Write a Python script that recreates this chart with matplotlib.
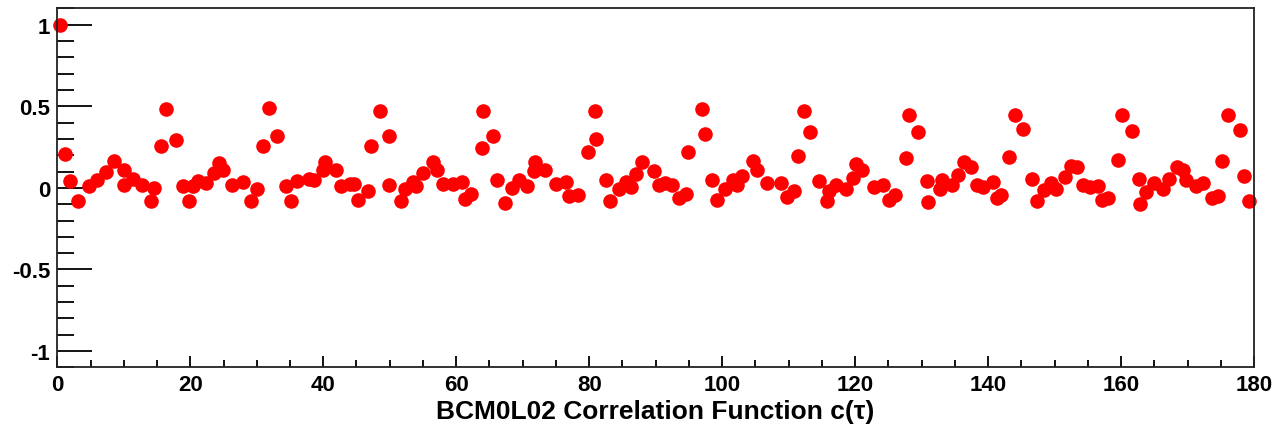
import matplotlib
matplotlib.use("Agg")
import matplotlib.pyplot as plt
from matplotlib.ticker import MultipleLocator

plt.rcParams['font.family'] = ['Liberation Sans', 'DejaVu Sans']
plt.rcParams['font.weight'] = 'bold'

# lag values and correlation
tau = [0.45, 1.2, 1.96, 3.1, 4.8, 5.9, 7.3, 8.5, 10.0, 10.0, 11.4, 12.7, 14.1, 14.5,
       15.6, 16.3, 17.85, 18.9, 19.85, 20.45, 21.15, 22.4, 23.5, 24.3, 24.96, 26.3,
       27.97, 29.2, 30.1, 31.0, 31.9, 33.0, 34.4, 35.2, 36.1, 37.9, 38.6, 39.9, 40.2,
       41.9, 42.7, 44.0, 44.7, 45.3, 46.8, 47.2, 48.6, 49.9, 49.9, 51.7, 52.3, 53.5,
       54.0, 55.0, 56.5, 57.05, 57.95, 59.55, 60.9, 61.3, 62.2, 63.9, 63.97, 65.5,
       66.2, 67.4, 68.4, 69.5, 70.6, 71.7, 71.9, 73.3, 75.0, 76.5, 77.0, 78.25, 79.85,
       80.86, 81.1, 82.5, 83.1, 84.5, 85.5, 86.3, 87.05, 88.0, 89.8, 90.5, 91.4, 92.5,
       93.5, 94.5, 94.9, 96.9, 97.4, 98.5, 99.2, 100.4, 101.7, 102.3, 103.0, 104.7,
       105.2, 106.8, 108.8, 109.8, 110.8, 111.4, 112.3, 113.2, 114.5, 115.7, 116.1,
       117.1, 118.7, 119.7, 120.1, 121.0, 122.9, 124.2, 125.1, 126.0, 127.7, 128.1,
       129.5, 130.8, 131.0, 132.7, 133.1, 134.6, 135.5, 136.3, 137.4, 138.3, 139.2,
       140.7, 141.3, 141.9, 143.1, 144.1, 145.3, 146.6, 147.3, 148.4, 149.5, 150.2,
       151.5, 152.4, 153.4, 154.2, 155.3, 156.6, 157.1, 158.0, 159.6, 160.2, 161.6,
       162.7, 162.9, 163.8, 164.9, 166.3, 167.2, 168.4, 169.3, 169.8, 171.3, 172.3,
       173.6, 174.6, 175.2, 176.1, 177.9, 178.5, 179.2]
corr = [1.0, 0.21, 0.04, -0.08, 0.014, 0.05, 0.096, 0.167, 0.112, 0.02, 0.055, 0.02,
        -0.08, 0.0, 0.255, 0.484, 0.292, 0.01, -0.08, 0.01, 0.04, 0.03, 0.094, 0.155,
        0.112, 0.02, 0.034, -0.078, -0.006, 0.255, 0.49, 0.32, 0.01, -0.082, 0.04,
        0.055, 0.047, 0.112, 0.157, 0.112, 0.01, 0.024, 0.024, -0.072, -0.017, 0.255,
        0.473, 0.32, 0.02, -0.078, -0.006, 0.034, 0.01, 0.094, 0.157, 0.112, 0.026,
        0.026, 0.037, -0.067, -0.035, 0.245, 0.473, 0.32, 0.051, -0.092, 0.0, 0.051,
        0.01, 0.102, 0.157, 0.112, 0.026, 0.034, -0.051, -0.041, 0.22, 0.473, 0.30,
        0.051, -0.078, -0.006, 0.034, 0.006, 0.088, 0.157, 0.102, 0.02, 0.03, 0.02,
        -0.061, -0.035, 0.22, 0.484, 0.33, 0.051, -0.072, -0.006, 0.051, 0.02, 0.075,
        0.167, 0.112, 0.03, 0.03, -0.057, -0.021, 0.193, 0.473, 0.34, 0.04, -0.078,
        -0.017, 0.02, -0.006, 0.061, 0.149, 0.112, 0.006, 0.02, -0.072, -0.041, 0.184,
        0.449, 0.34, 0.04, -0.088, -0.006, 0.047, 0.02, 0.077, 0.159, 0.128, 0.02,
        0.006, 0.037, -0.061, -0.041, 0.19, 0.449, 0.361, 0.057, -0.078, -0.015, 0.03,
        -0.006, 0.065, 0.137, 0.126, 0.02, 0.006, 0.01, -0.072, -0.061, 0.173, 0.449,
        0.347, 0.057, -0.098, -0.027, 0.03, -0.006, 0.057, 0.128, 0.112, 0.047, 0.01,
        0.03, -0.061, -0.051, 0.167, 0.449, 0.353, 0.075, -0.078]

fig = plt.figure(figsize=(12.76, 4.31), dpi=100)
ax = fig.add_axes([0.0449, 0.1455, 0.9379, 0.8325])

ax.plot(tau, corr, 'o', color='red', markersize=10.5, markeredgewidth=0, clip_on=False)

ax.set_xlim(0, 180)
ax.set_ylim(-1.1, 1.1)
ax.xaxis.set_major_locator(MultipleLocator(20))
ax.xaxis.set_minor_locator(MultipleLocator(5))
ax.yaxis.set_major_locator(MultipleLocator(0.5))
ax.yaxis.set_minor_locator(MultipleLocator(0.1))
ax.set_yticks([-1, -0.5, 0, 0.5, 1])
ax.set_yticklabels(['-1', '-0.5', '0', '0.5', '1'])

ax.tick_params(axis='y', which='major', direction='in', length=25, width=1.3, pad=5, labelsize=16)
ax.tick_params(axis='y', which='minor', direction='in', length=12, width=1.3)
ax.tick_params(axis='x', which='major', direction='in', length=8, width=1.3, pad=5, labelsize=16)
ax.tick_params(axis='x', which='minor', direction='in', length=5, width=1.3)
for s in ax.spines.values():
    s.set_linewidth(1.3)
    s.set_color('#222222')

ax.set_xlabel('BCM0L02 Correlation Function c(τ)', fontsize=19, fontweight='bold', labelpad=3)

plt.savefig('out.png', dpi=100)
